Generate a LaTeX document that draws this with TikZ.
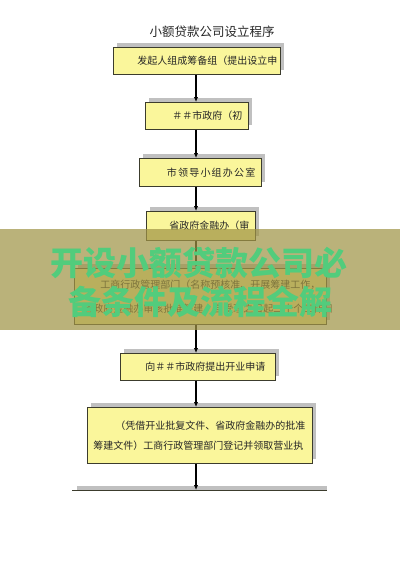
\documentclass[tikz,border=0pt]{standalone}
\usepackage{fontspec}
\usetikzlibrary{arrows.meta,shadows}
\newfontfamily\cjk{Noto Sans CJK SC}
\newfontfamily\cjkwide[LetterSpace=12]{Noto Sans CJK SC}
\definecolor{boxyellow}{RGB}{250,246,155}
\definecolor{boxline}{RGB}{60,60,45}
\definecolor{shadowgray}{RGB}{192,192,192}
\definecolor{bannerolive}{RGB}{160,148,70}
\definecolor{bannergreen}{RGB}{82,204,124}
\tikzset{
  stepbox/.style={draw=boxline, fill=boxyellow, line width=.6pt, anchor=north west,
    inner ysep=0pt, text=black!85, font=\cjk\fontsize{10}{12}\selectfont,
    drop shadow={shadow xshift=4pt, shadow yshift=4pt, fill=shadowgray, opacity=1}},
  flow/.style={line width=1.2pt, -{Latex[length=5pt,width=4.5pt]}},
}
\begin{document}
\begin{tikzpicture}[x=1pt,y=-1pt]
      \useasboundingbox (0,0) rectangle (400,565);
      \coordinate (axis) at (196,0);
      % title
      \node[font=\cjk\fontsize{12.5}{14}\selectfont, text=black!85] (title) at (212,32) {小额贷款公司设立程序};
      % steps
      \node[stepbox, minimum width=167pt, minimum height=27pt, text width=161pt, inner xsep=3pt, align=right] (org) at (113,47) {发起人组成筹备组（提出设立申};
      \node[stepbox, minimum width=103pt, minimum height=27pt, text width=91pt, inner xsep=6pt, align=right] (citygov) at (145,102) {＃＃市政府（初};
      \node[stepbox, minimum width=122pt, minimum height=28pt, text width=110pt, inner xsep=6pt, align=right, font=\cjkwide\fontsize{10}{12}\selectfont] (office) at (139,158) {市领导小组办公室};
      \node[stepbox, minimum width=109pt, minimum height=29pt, text width=97pt, inner xsep=6pt, align=right] (finance) at (146,211) {省政府金融办（审};
      \node[stepbox, minimum width=252pt, minimum height=56pt, text width=234pt, inner xsep=9pt, align=left, font=\cjk\fontsize{10}{24}\selectfont] (icb) at (74,268) {\hspace*{17pt}工商行政管理部门（名称预核准、开展筹建工作，\\省政府金融办审核批准筹建，自受理之日起二十个工作日};
      \node[stepbox, minimum width=155pt, minimum height=27pt, text width=135pt, inner xsep=10pt, align=right] (apply) at (120,353) {向＃＃市政府提出开业申请};
      \node[stepbox, minimum width=225pt, minimum height=56pt, text width=213pt, inner xsep=6pt, align=left, font=\cjk\fontsize{10}{20}\selectfont] (licence) at (87,407) {\hspace*{22pt}（凭借开业批复文件、省政府金融办的批准\\筹建文件）工商行政管理部门登记并领取营业执};
      % last box, cut off
      \coordinate (lastl) at (72,490);
      \coordinate (lastr) at (327,490);
      \fill[shadowgray] (77,486) rectangle (lastr);
      \draw[boxline, line width=.6pt] (lastl) -- (lastr);
      % arrows
      \draw[flow] (org.south -| axis) -- (citygov.north -| axis);
      \draw[flow] (citygov.south -| axis) -- (office.north -| axis);
      \draw[flow] (office.south -| axis) -- (finance.north -| axis);
      \draw[flow] (finance.south -| axis) -- (icb.north -| axis);
      \draw[flow] (icb.south -| axis) -- (apply.north -| axis);
      \draw[flow] (apply.south -| axis) -- (licence.north -| axis);
      \draw[flow] (licence.south -| axis) -- (lastl -| axis);
      % banner
      \fill[bannerolive, opacity=.72] (0,229) rectangle (400,330);
      \node[font=\cjk\bfseries\fontsize{33}{36}\selectfont, text=bannergreen] (head1) at (199,263) {开设小额贷款公司必};
      \node[font=\cjk\bfseries\fontsize{33}{36}\selectfont, text=bannergreen] (head2) at (200,302) {备条件及流程全解};
\end{tikzpicture}
\end{document}
